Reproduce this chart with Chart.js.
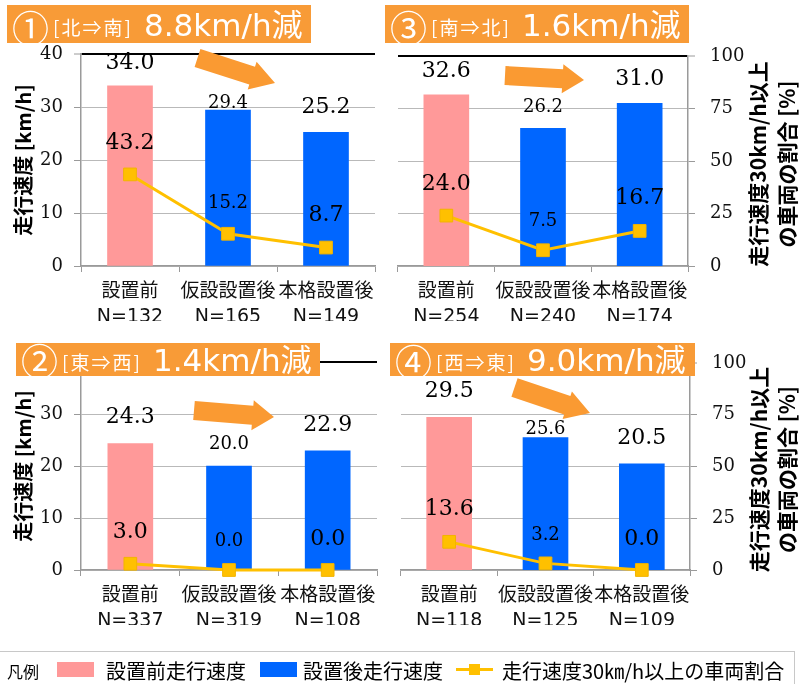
<!DOCTYPE html>
<html lang="ja">
<head>
<meta charset="utf-8">
<title>走行速度と走行速度30km/h以上の車両の割合</title>
<script src="https://cdn.jsdelivr.net/npm/chart.js@4"></script>
<style>
  html, body { margin: 0; padding: 0; background: #fff; }
  #page { position: relative; width: 807px; height: 684px; overflow: hidden; background: #fff; }
  .panel { position: absolute; overflow: hidden; }
  .panel canvas { position: absolute; top: 0; }
  #overlay { position: absolute; left: 0; top: 0; pointer-events: none; }
</style>
</head>
<body>
<div id="page">
  <div class="panel" id="wrap1"><canvas id="c1"></canvas></div>
  <div class="panel" id="wrap2"><canvas id="c2"></canvas></div>
  <div class="panel" id="wrap3"><canvas id="c3"></canvas></div>
  <div class="panel" id="wrap4"><canvas id="c4"></canvas></div>
  <svg id="overlay" width="807" height="684" xmlns="http://www.w3.org/2000/svg"></svg>
</div>
<script>
// ---- data ----
const categories = ['設置前', '仮設設置後', '本格設置後'];

// ① 北⇒南
const speedNS = [34.0, 29.4, 25.2];
const shareNS = [43.2, 15.2, 8.7];
const countNS = [132, 165, 149];
// ② 東⇒西
const speedEW = [24.3, 20.0, 22.9];
const shareEW = [3.0, 0.0, 0.0];
const countEW = [337, 319, 108];
// ③ 南⇒北
const speedSN = [32.6, 26.2, 31.0];
const shareSN = [24.0, 7.5, 16.7];
const countSN = [254, 240, 174];
// ④ 西⇒東
const speedWE = [29.5, 25.6, 20.5];
const shareWE = [13.6, 3.2, 0.0];
const countWE = [118, 125, 109];

const speedTicks = [0, 10, 20, 30, 40];
const shareTicks = [0, 25, 50, 75, 100];

// ---- styles ----
const PINK = '#FF9999', BLUE = '#0066FF', GOLD = '#FFC000';
const ORANGE = '#F89B37';
const GRID = '#b9b9b9', AXIS = '#9a9a9a';
const CJK = '"Noto Sans CJK JP"';

Chart.defaults.font.family = CJK;
Chart.defaults.animation = false;

const panels = [
  { canvas: 'c1', wrap: 'wrap1', no: '①', dir: '北⇒南', speed: speedNS, share: shareNS, count: countNS,
    side: 'left', box: { left: 0, top: 0, w: 400, h: 325 }, shift: 0, cw: 400, axisW: 81,
    pad: { top: 54, right: 25, bottom: 4, left: 0 },
    banner: { x: 7, y: 5, w: 304, h: 38, base: 36, numBase: 43 },
    barDy: [-23, -7, -25], lineDy: [-31, -30, -32],
    arrow: [197.5, 58, 275, 83, 18.7, 29, 24] },
  { canvas: 'c2', wrap: 'wrap2', no: '②', dir: '東⇒西', speed: speedEW, share: shareEW, count: countEW,
    side: 'left', box: { left: 0, top: 325, w: 400, h: 315 }, shift: 0, cw: 400, axisW: 81,
    pad: { top: 37, right: 23, bottom: 15, left: 0 },
    banner: { x: 16, y: 343, w: 304, h: 33, base: 371, numBase: 375.5 },
    barDy: [-26, -22, -26], lineDy: [-31, -29, -31],
    arrow: [194, 410.5, 274, 417, 19, 30, 21.5] },
  { canvas: 'c3', wrap: 'wrap3', no: '③', dir: '南⇒北', speed: speedSN, share: shareSN, count: countSN,
    side: 'right', box: { left: 396, top: 0, w: 411, h: 325 }, shift: -8, cw: 419, axisW: 60,
    pad: { top: 56, right: 59, bottom: 4, left: 0 },
    banner: { x: 385, y: 5, w: 304, h: 38, base: 36, numBase: 43 },
    barDy: [-24, -21, -24], lineDy: [-31, -29, -33],
    titleX: [70, 99],
    arrow: [505, 75.5, 584, 80, 19, 29, 21.5] },
  { canvas: 'c4', wrap: 'wrap4', no: '④', dir: '西⇒東', speed: speedWE, share: shareWE, count: countWE,
    side: 'right', box: { left: 396, top: 325, w: 411, h: 315 }, shift: -5, cw: 416, axisW: 60,
    pad: { top: 38, right: 57, bottom: 15, left: 0 },
    banner: { x: 390, y: 343, w: 305, h: 33, base: 371, numBase: 376.5 },
    barDy: [-26, -8, -26], lineDy: [-33, -28, -31],
    titleX: [69, 97],
    arrow: [514.5, 387.5, 590, 413, 19.5, 29, 24] }
];

// value labels above bars and line points
function makeValueLabels(p) {
  return {
    id: 'valueLabels',
    afterDatasetsDraw(chart) {
      const ctx = chart.ctx;
      ctx.save();
      ctx.textAlign = 'center';
      ctx.textBaseline = 'middle';
      ctx.fillStyle = '#000';
      chart.data.datasets.forEach((ds, di) => {
        const meta = chart.getDatasetMeta(di);
        const dys = ds.type === 'line' ? p.lineDy : p.barDy;
        meta.data.forEach((el, i) => {
          const size = i === 1 ? 18 : 22;
          ctx.font = size + 'px "DejaVu Serif"';
          ctx.fillText(ds.data[i].toFixed(1), el.x, el.y + dys[i]);
        });
      });
      ctx.restore();
    }
  };
}

// two-line title beside the right-hand axis, reading bottom to top
function makeSideTitle(p) {
  return {
    id: 'sideTitle',
    afterDraw(chart) {
      if (p.side !== 'right') return;
      const { ctx, chartArea } = chart;
      const lines = ['走行速度30km/h以上', 'の車両の割合 [%]'];
      const cy = (chartArea.top + chartArea.bottom) / 2 + 3;
      ctx.save();
      ctx.fillStyle = '#000';
      ctx.font = 'bold 21px ' + CJK;
      ctx.textAlign = 'center';
      ctx.textBaseline = 'middle';
      lines.forEach((t, i) => {
        ctx.save();
        ctx.translate(chartArea.right + p.titleX[i], cy);
        ctx.rotate(-Math.PI / 2);
        ctx.fillText(t, 0, 0);
        ctx.restore();
      });
      ctx.restore();
    }
  };
}

function valueScale(ticks, shown, position, title, p) {
  const top = ticks[ticks.length - 1];
  return {
    type: 'linear',
    position,
    display: shown,
    min: ticks[0],
    max: top,
    afterBuildTicks: s => { s.ticks = ticks.map(v => ({ value: v })); },
    afterFit: s => { s.width = shown ? p.axisW : 0; },
    grid: {
      color: c => (c.tick && c.tick.value === top) ? '#000' : GRID,
      lineWidth: c => (c.tick && c.tick.value === top) ? 2 : 1,
      tickLength: 7,
      tickColor: AXIS,
      tickWidth: 1
    },
    border: { display: true, color: AXIS, width: 1.5 },
    ticks: {
      padding: position === 'left' ? 11 : 15,
      color: '#111',
      font: { family: '"DejaVu Serif"', size: 18 }
    },
    title: title ? {
      display: true, text: title, color: '#000',
      font: { family: CJK, size: 20, weight: 'bold' },
      padding: { top: 11, bottom: 0 }
    } : { display: false }
  };
}

panels.forEach(p => {
  const wrap = document.getElementById(p.wrap);
  Object.assign(wrap.style, {
    left: p.box.left + 'px', top: p.box.top + 'px', width: p.box.w + 'px', height: p.box.h + 'px'
  });
  const cv = document.getElementById(p.canvas);
  cv.width = p.cw;
  cv.height = p.box.h;
  cv.style.left = p.shift + 'px';

  const left = p.side === 'left';
  new Chart(cv, {
    type: 'bar',
    data: {
      labels: categories.map((c, i) => [c, 'N=' + p.count[i]]),
      datasets: [
        {
          type: 'line',
          label: '走行速度30km/h以上の車両割合',
          data: p.share,
          yAxisID: 'y1',
          order: 1,
          borderColor: GOLD,
          borderWidth: 3,
          tension: 0,
          pointStyle: 'rect',
          pointRadius: 9,
          pointBackgroundColor: GOLD,
          pointBorderColor: '#F2B400',
          pointBorderWidth: 1,
          clip: false
        },
        {
          type: 'bar',
          label: '走行速度',
          data: p.speed,
          yAxisID: 'y',
          order: 2,
          backgroundColor: [PINK, BLUE, BLUE],
          borderWidth: 0,
          barThickness: 45
        }
      ]
    },
    options: {
      responsive: false,
      animation: false,
      layout: { padding: p.pad },
      plugins: { legend: { display: false }, tooltip: { enabled: false } },
      scales: {
        x: {
          offset: true,
          grid: { display: true, offset: true, drawOnChartArea: false, drawTicks: true,
                  tickLength: 6, color: AXIS, lineWidth: 1 },
          border: { display: true, color: AXIS, width: 1.5 },
          ticks: {
            autoSkip: false, maxRotation: 0, minRotation: 0, padding: 7.5, color: '#111',
            font: { family: '"DejaVu Sans", ' + CJK, size: 19, lineHeight: 1.316 }
          },
          afterFit: s => { s.height = 55; }
        },
        y: valueScale(speedTicks, left, 'left', '走行速度 [km/h]', p),
        y1: valueScale(shareTicks, !left, 'right', null, p)
      }
    },
    plugins: [makeValueLabels(p), makeSideTitle(p)]
  });
});

// ---- banners, arrows and legend ----
const SVGNS = 'http://www.w3.org/2000/svg';
const svg = document.getElementById('overlay');
function add(tag, attrs, text) {
  const el = document.createElementNS(SVGNS, tag);
  for (const k in attrs) el.setAttribute(k, attrs[k]);
  if (text != null) el.textContent = text;
  svg.appendChild(el);
  return el;
}
function arrowPoints(tx, ty, px, py, sw, hw, hl) {
  const len = Math.hypot(px - tx, py - ty);
  const ux = (px - tx) / len, uy = (py - ty) / len;
  const nx = -uy, ny = ux;
  const bx = px - ux * hl, by = py - uy * hl;
  const pts = [
    [tx - nx * sw / 2, ty - ny * sw / 2], [bx - nx * sw / 2, by - ny * sw / 2],
    [bx - nx * hw / 2, by - ny * hw / 2], [px, py],
    [bx + nx * hw / 2, by + ny * hw / 2], [bx + nx * sw / 2, by + ny * sw / 2],
    [tx + nx * sw / 2, ty + ny * sw / 2]
  ];
  return pts.map(q => q[0].toFixed(1) + ',' + q[1].toFixed(1)).join(' ');
}

panels.forEach(p => {
  const b = p.banner;
  add('rect', { x: b.x, y: b.y, width: b.w, height: b.h, fill: ORANGE });
  add('text', { x: b.x + 5, y: b.numBase, fill: '#fff', 'font-family': CJK, 'font-size': 37 }, p.no);
  add('text', { x: b.x + 46, y: b.base - 1, fill: '#fff', 'font-family': CJK, 'font-size': 19,
                'letter-spacing': 2 }, '[' + p.dir + ']');
  const drop = (p.speed[0] - p.speed[p.speed.length - 1]).toFixed(1);
  add('text', { x: b.x + 137, y: b.base, fill: '#fff', 'font-family': '"DejaVu Sans", ' + CJK,
                'font-size': 31 }, drop + 'km/h減');
  add('polygon', { points: arrowPoints(...p.arrow), fill: '#FA9A32' });
});

// shared legend
add('rect', { x: -1, y: 651.5, width: 795.5, height: 40, fill: 'none', stroke: '#c8c8c8', 'stroke-width': 1 });
add('text', { x: 7, y: 678, fill: '#000', 'font-family': CJK, 'font-size': 16 }, '凡例');
add('rect', { x: 57, y: 662, width: 37, height: 15, fill: PINK });
add('text', { x: 106, y: 679, fill: '#000', 'font-family': CJK, 'font-size': 20 }, '設置前走行速度');
add('rect', { x: 260, y: 662, width: 37, height: 15, fill: BLUE });
add('text', { x: 303, y: 679, fill: '#000', 'font-family': CJK, 'font-size': 20 }, '設置後走行速度');
add('line', { x1: 456, y1: 669.5, x2: 493, y2: 669.5, stroke: GOLD, 'stroke-width': 3 });
add('rect', { x: 469, y: 664, width: 11, height: 11, fill: GOLD });
add('text', { x: 502, y: 679, fill: '#000', 'font-family': CJK, 'font-size': 20 }, '走行速度30㎞/h以上の車両割合');
</script>
</body>
</html>
